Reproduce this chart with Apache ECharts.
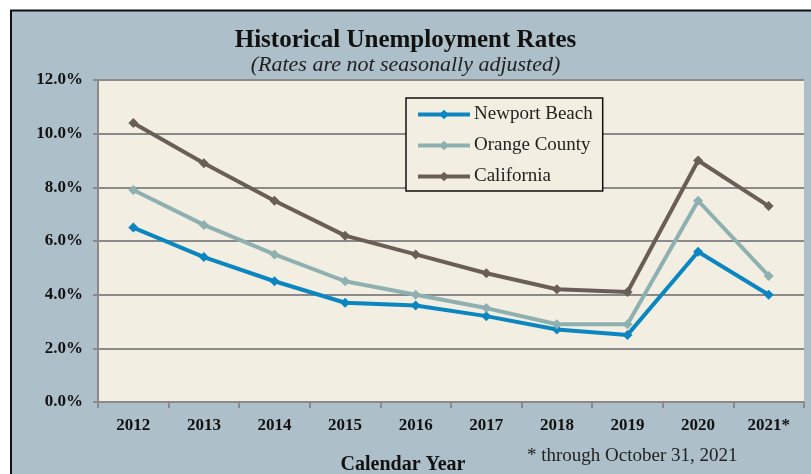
<!DOCTYPE html>
<html><head><meta charset="utf-8">
<script src="https://cdn.jsdelivr.net/npm/echarts@6/dist/echarts.min.js"></script>
<style>html,body{margin:0;padding:0;background:#fff;}#c{width:811px;height:474px;}</style>
</head><body><div id="c"></div>
<script>
const categories = ['2012','2013','2014','2015','2016','2017','2018','2019','2020','2021*'];
const newportBeach = [6.5,5.4,4.5,3.7,3.6,3.2,2.7,2.5,5.6,4.0];
const orangeCounty = [7.9,6.6,5.5,4.5,4.0,3.5,2.9,2.9,7.5,4.7];
const california = [10.4,8.9,7.5,6.2,5.5,4.8,4.2,4.1,9.0,7.3];
const yTicks = [0,2,4,6,8,10,12];

const serif = 'Liberation Serif, DejaVu Serif, serif';
const chart = echarts.init(document.getElementById('c'));
function mk(name, data, color){
  return {name, type:'line', data, symbol:'diamond', symbolSize:10,
    lineStyle:{color, width:4}, itemStyle:{color}, color, z:3};
}
chart.setOption({
  animation:false,
  textStyle:{fontFamily:serif},
  graphic:[
    {type:'rect', z:-10, shape:{x:11,y:10.5,width:820,height:480}, style:{fill:'#adbfc8', stroke:'#111', lineWidth:2}},
    {type:'text', left:'center', top:28, z:10, style:{text:'Historical Unemployment Rates', font:'bold 25px '+serif, fill:'#111'}},
    {type:'text', left:'center', top:54, z:10, style:{text:'(Rates are not seasonally adjusted)', font:'italic 22px '+serif, fill:'#222'}},
    {type:'text', left:527, top:447, z:10, style:{text:'* through October 31, 2021', font:'19px '+serif, fill:'#222'}}
  ],
  grid:{left:98, right:7, top:80, bottom:72, show:true, backgroundColor:'#f2eee1', borderWidth:0, outerBoundsMode:'none', containLabel:false},
  legend:{
    orient:'vertical', left:406, top:98, itemWidth:52, itemHeight:12, itemGap:12,
    padding:[7,10,5,10],
    backgroundColor:'#f2eee1', borderColor:'#111', borderWidth:1.5,
    lineStyle:{width:4},
    textStyle:{fontFamily:serif, fontSize:19, color:'#222', padding:[0,0,0,-1]},
    data:['Newport Beach','Orange County','California']
  },
  xAxis:{type:'category', data:categories, boundaryGap:true,
    axisLine:{lineStyle:{color:'#8a8a8a', width:2}},
    axisTick:{show:true, length:6, lineStyle:{color:'#8a8a8a', width:2}},
    axisLabel:{color:'#111', fontWeight:'bold', fontSize:17, fontFamily:serif, margin:15},
    name:'Calendar Year', nameLocation:'middle', nameGap:53,
    nameTextStyle:{color:'#111', fontWeight:'bold', fontSize:20, fontFamily:serif, padding:[0,96,0,0]}
  },
  yAxis:{type:'value', min:0, max:12, interval:2,
    axisLine:{show:true, lineStyle:{color:'#8a8a8a', width:2}},
    axisTick:{show:true, length:5, lineStyle:{color:'#8a8a8a', width:2}},
    splitLine:{lineStyle:{color:'#8a8a8a', width:2}},
    axisLabel:{color:'#111', fontWeight:'bold', fontSize:17, fontFamily:serif, margin:15,
      formatter:v=>yTicks.includes(v)? v.toFixed(1)+'%':''}
  },
  series:[mk('Newport Beach', newportBeach, '#0b86c0'), mk('Orange County', orangeCounty, '#8fb0b1'), mk('California', california, '#6b5e57')]
});
</script></body></html>
